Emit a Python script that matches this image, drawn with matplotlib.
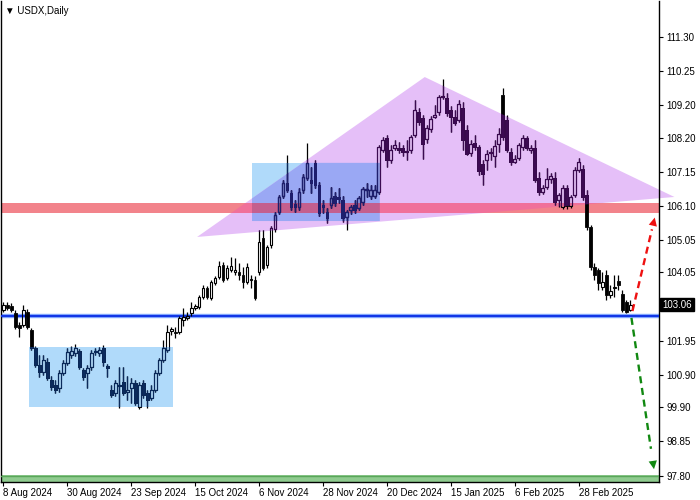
import numpy as np
import pandas as pd
import matplotlib as mpl
mpl.use('Agg')
import matplotlib.pyplot as plt
from matplotlib.patches import Polygon, Rectangle
from matplotlib.path import Path
from matplotlib.transforms import Bbox, blended_transform_factory

plt.rcParams['font.family'] = ['Liberation Sans', 'DejaVu Sans']

# daily USDX bars, 8 Aug 2024 .. 19 Mar 2025
opens = [102.89, 103.05, 103.02, 102.80, 102.44, 102.44, 102.83, 102.28, 101.72, 101.20,
         100.99, 101.30, 100.74, 100.59, 100.49, 100.96, 101.27, 101.51, 101.57, 101.63,
         101.05, 100.96, 101.14, 101.60, 101.57, 101.72, 101.17, 100.43, 100.34, 100.55,
         100.68, 100.37, 100.49, 100.65, 99.91, 100.65, 100.34, 100.19, 100.43, 100.96,
         101.36, 101.66, 102.25, 102.22, 102.22, 102.59, 102.65, 102.80, 102.95, 102.98,
         103.29, 103.57, 103.26, 103.72, 103.91, 104.28, 103.88, 104.13, 104.06, 104.06,
         103.97, 103.76, 103.82, 103.82, 104.06, 105.11, 104.28, 104.89, 105.39, 105.91,
         106.40, 106.80, 106.49, 106.16, 106.06, 106.59, 106.96, 106.89, 107.42, 106.74,
         106.12, 105.91, 106.12, 106.40, 106.37, 106.28, 105.76, 105.97, 106.12, 106.03,
         106.22, 106.59, 106.40, 106.40, 106.52, 107.82, 108.19, 107.51, 107.88, 107.88,
         107.88, 107.76, 107.82, 108.28, 108.99, 108.80, 108.16, 108.46, 108.83, 108.99,
         109.45, 109.42, 109.05, 108.83, 108.74, 109.11, 108.43, 107.72, 108.03, 107.91,
         107.39, 107.51, 107.72, 107.63, 108.00, 109.51, 108.74, 107.76, 107.45, 107.57,
         107.91, 108.19, 107.82, 107.88, 106.96, 106.52, 106.68, 106.92, 106.96, 106.28,
         106.06, 106.65, 106.09, 106.43, 107.20, 107.23, 106.43, 105.45, 104.22, 104.13,
         103.60, 103.97, 103.35, 103.57, 103.79, 103.38, 103.14, 102.89]
highs = [103.14, 103.14, 103.11, 102.89, 102.53, 103.05, 102.92, 102.34, 101.78, 101.51,
         101.51, 101.42, 100.86, 100.74, 101.05, 101.36, 101.72, 101.78, 101.85, 101.69,
         101.11, 101.20, 101.66, 101.72, 101.75, 101.82, 101.23, 100.59, 100.74, 101.14,
         101.14, 100.86, 100.80, 100.74, 100.68, 100.74, 100.43, 100.59, 101.05, 101.42,
         101.97, 102.44, 102.37, 102.37, 102.71, 102.95, 102.83, 103.14, 103.08, 103.35,
         103.66, 103.63, 103.82, 103.94, 104.40, 104.37, 104.28, 104.53, 104.49, 104.34,
         104.22, 104.34, 103.97, 103.94, 105.36, 105.36, 104.89, 105.48, 105.91, 106.43,
         106.89, 107.66, 106.59, 106.28, 106.65, 107.08, 108.03, 107.29, 107.51, 106.83,
         106.28, 106.03, 106.68, 106.52, 106.65, 106.40, 105.97, 106.12, 106.28, 106.40,
         106.68, 106.80, 106.74, 106.74, 107.97, 108.22, 108.28, 107.97, 108.13, 108.06,
         107.97, 108.13, 108.28, 109.36, 109.11, 108.89, 108.59, 108.86, 109.20, 109.51,
         110.00, 109.57, 109.17, 109.05, 109.36, 109.29, 108.59, 108.13, 108.28, 107.97,
         107.51, 107.82, 107.88, 108.13, 108.49, 109.72, 108.89, 107.88, 107.66, 108.03,
         108.28, 108.25, 107.97, 108.13, 107.14, 106.74, 107.26, 107.11, 107.14, 106.49,
         106.74, 106.74, 106.43, 107.29, 107.57, 107.36, 106.59, 105.51, 104.34, 104.19,
         104.06, 104.13, 103.66, 103.97, 103.97, 103.51, 103.20, 103.20]
lows = [102.83, 102.89, 102.83, 102.31, 102.06, 102.37, 102.31, 101.66, 101.14, 100.83,
        100.90, 100.74, 100.43, 100.34, 100.37, 100.90, 101.20, 101.42, 101.48, 101.08,
        100.74, 100.49, 101.05, 101.51, 101.48, 101.17, 100.83, 100.22, 100.25, 99.88,
        100.28, 100.13, 100.03, 99.97, 99.85, 100.19, 99.88, 100.13, 100.37, 100.90,
        101.30, 101.60, 102.12, 102.03, 102.16, 102.41, 102.59, 102.71, 102.89, 102.92,
        103.23, 103.23, 103.20, 103.66, 103.85, 103.76, 103.82, 104.06, 103.97, 103.82,
        103.57, 103.69, 103.57, 103.20, 103.97, 104.13, 104.19, 104.80, 105.29, 105.85,
        106.34, 106.53, 105.97, 105.91, 105.97, 106.49, 106.89, 106.49, 106.65, 105.79,
        105.88, 105.57, 106.03, 106.09, 106.19, 105.60, 105.36, 105.85, 105.88, 105.97,
        106.12, 106.37, 106.31, 106.34, 106.46, 107.76, 107.29, 107.42, 107.82, 107.72,
        107.63, 107.51, 107.72, 108.22, 108.59, 107.54, 108.03, 108.37, 108.80, 108.89,
        109.39, 108.86, 108.37, 108.59, 108.68, 107.82, 107.66, 107.63, 107.82, 107.05,
        106.74, 107.20, 107.51, 107.29, 107.76, 108.13, 107.76, 107.36, 107.42, 107.51,
        107.82, 107.82, 107.72, 106.83, 106.43, 106.46, 106.62, 106.80, 106.12, 106.06,
        106.00, 106.00, 106.03, 106.37, 107.14, 106.28, 105.36, 104.13, 103.82, 103.51,
        103.51, 103.20, 103.26, 103.29, 103.51, 102.83, 102.80, 102.86]
closes = [103.05, 102.95, 102.89, 102.37, 102.34, 102.89, 102.37, 101.72, 101.20, 100.99,
          101.36, 100.80, 100.52, 100.43, 100.96, 101.27, 101.60, 101.63, 101.72, 101.14,
          100.83, 101.11, 101.57, 101.63, 101.66, 101.30, 101.11, 100.28, 100.65, 100.59,
          100.34, 100.43, 100.65, 100.03, 100.59, 100.28, 100.13, 100.43, 100.96, 101.36,
          101.72, 102.22, 102.31, 102.19, 102.65, 102.68, 102.71, 102.95, 103.02, 103.29,
          103.57, 103.29, 103.76, 103.88, 104.25, 103.82, 104.19, 104.25, 104.13, 103.97,
          103.76, 104.22, 103.85, 103.26, 104.99, 104.19, 104.83, 105.42, 105.82, 106.37,
          106.80, 106.59, 106.06, 106.06, 106.52, 106.99, 107.42, 106.80, 106.74, 105.88,
          106.06, 105.72, 106.34, 106.19, 106.31, 105.72, 105.91, 106.06, 105.97, 106.34,
          106.62, 106.62, 106.59, 106.59, 107.91, 108.13, 107.51, 107.82, 107.97, 107.82,
          107.76, 107.79, 108.22, 109.05, 108.68, 108.00, 108.49, 108.77, 108.89, 109.45,
          109.48, 108.96, 108.83, 108.65, 109.23, 108.13, 107.69, 108.00, 107.91, 107.17,
          107.08, 107.69, 107.76, 107.94, 108.31, 108.22, 107.82, 107.45, 107.54, 107.97,
          108.19, 107.88, 107.88, 106.89, 106.52, 106.65, 106.92, 107.02, 106.22, 106.43,
          106.65, 106.09, 106.37, 107.20, 107.45, 106.37, 105.45, 104.22, 103.97, 103.72,
          103.76, 103.35, 103.48, 103.60, 103.66, 102.89, 102.83, 103.06]

date_labels = ['8 Aug 2024', '30 Aug 2024', '23 Sep 2024', '15 Oct 2024', '6 Nov 2024',
               '28 Nov 2024', '20 Dec 2024', '15 Jan 2025', '6 Feb 2025', '28 Feb 2025']
price_ticks = [111.30, 110.25, 109.20, 108.20, 107.15, 106.10, 105.05, 104.05,
               101.95, 100.90, 99.90, 98.85, 97.80]
last_price = 103.06

# drawn objects (bar index, price)
support_level = 102.71
resist_zone = (105.87, 106.19)
bottom_zone = (97.60, 97.83)
box1 = (6.5, 42.5, 99.91, 101.76)
box2 = (62.25, 94.25, 105.63, 107.42)
triangle = [(48.5, 105.14), (105.5, 110.06), (168.0, 106.37)]
up_arrow = [(157.5, 102.86), (163.25, 105.82)]
down_arrow = [(157.25, 102.65), (163.0, 97.91)]

days = pd.bdate_range('2024-08-08', '2025-03-25')
days = days[~days.isin(pd.to_datetime(['2024-12-25', '2025-01-01']))][:len(closes)]
tick_pos = [days.get_loc(pd.Timestamp(d)) for d in pd.to_datetime(date_labels, format='%d %b %Y')]

LB = '#b0dafa'
LAV = '#e5bff8'
MIX = '#9aa8f4'
RED = '#f2838b'
RED_T = '#f0709a'
RED_BT = '#c45f8e'

fig = plt.figure(figsize=(7, 5), dpi=100)
ax = fig.add_axes([0.002, 0.036, 0.940, 0.962])
ax.set_xlim(-0.5, 164.25)
ax.set_ylim(97.60, 112.40)

def rect(b, **kw):
    return Rectangle((b[0], b[2]), b[1] - b[0], b[3] - b[2], **kw)

tri = Polygon(triangle, closed=True, facecolor=LAV, edgecolor='none', zorder=1, clip_on=False)
tri_clip = Polygon(triangle, closed=True, transform=ax.transData)
b1 = rect(box1, facecolor=LB, edgecolor='none', zorder=1)
b2 = rect(box2, facecolor=LB, edgecolor='none', zorder=1)
ax.add_patch(b1)
ax.add_patch(b2)
ax.add_patch(tri)

# box2 inside triangle
inter = Path(triangle + [triangle[0]], closed=True).clip_to_bbox(
    Bbox([[box2[0], box2[2]], [box2[1], box2[3]]]))
inter_patch = Polygon(inter.vertices, closed=True, facecolor=MIX, edgecolor='none', zorder=1.5)
ax.add_patch(inter_patch)
inter_clip = Polygon(inter.vertices, closed=True, transform=ax.transData)

r0 = ax.axhspan(*resist_zone, color=RED, lw=0, zorder=2)
r1 = ax.axhspan(*resist_zone, color=RED_T, lw=0, zorder=2.1)
r1.set_clip_path(tri_clip)
r2 = ax.axhspan(*resist_zone, color=RED_BT, lw=0, zorder=2.2)
r2.set_clip_path(inter_clip)

ax.axhline(support_level, color='#8fb4ff', lw=3.2, zorder=2.5)
ax.axhline(support_level, color='#1236e6', lw=1.6, zorder=2.6)
ax.axhspan(*bottom_zone, color='#8fcb8f', lw=0, zorder=2.5)
ax.axhline(97.80, color='#5aa65a', lw=1, zorder=2.6)

x = np.arange(len(closes))
o = np.array(opens); h = np.array(highs); l = np.array(lows); c = np.array(closes)
top = np.maximum(o, c); bot = np.minimum(o, c)
bull = c >= o

def candles(color, z, clip=None):
    arts = []
    arts.append(ax.vlines(x, top, h, color=color, lw=0.9, zorder=z))
    arts.append(ax.vlines(x, l, bot, color=color, lw=0.9, zorder=z))
    hgt = np.maximum(top - bot, 0.02)
    bars = ax.bar(x[~bull], hgt[~bull], bottom=bot[~bull], width=0.7,
                  color=color, edgecolor=color, lw=0.6, zorder=z)
    arts.extend(bars.patches)
    bars = ax.bar(x[bull], hgt[bull], bottom=bot[bull], width=0.7,
                  facecolor='none', edgecolor=color, lw=0.8, zorder=z)
    arts.extend(bars.patches)
    if clip is not None:
        for a in arts:
            a.set_clip_path(clip)

candles('black', 3)
candles('#0b2a5c', 3.1, rect(box1, transform=ax.transData))
candles('#0b2a5c', 3.1, rect(box2, transform=ax.transData))
candles('#3c0a52', 3.2, tri_clip)
candles('#1d1f6e', 3.3, inter_clip)

for arr, col in [(up_arrow, '#ee1111'), (down_arrow, '#118811')]:
    (x0, y0), (x1, y1) = arr
    ax.plot([x0, x0 + 0.85 * (x1 - x0)], [y0, y0 + 0.85 * (y1 - y0)],
            color=col, lw=1.7, ls=(0, (3, 2)), zorder=4)
    ax.annotate('', xy=(x1, y1), xytext=(x0 + 0.8 * (x1 - x0), y0 + 0.8 * (y1 - y0)),
                arrowprops=dict(arrowstyle='-|>', color=col, lw=0, mutation_scale=15), zorder=4)

for s in ['left', 'right', 'bottom']:
    ax.spines[s].set_linewidth(1.0)
ax.spines['top'].set_visible(False)

ax.yaxis.tick_right()
ax.set_yticks(price_ticks)
ax.set_yticklabels(['%.2f' % p for p in price_ticks])
ax.tick_params(axis='y', length=3, width=0.8, pad=2, labelsize=7, direction='out')
ax.set_xticks(tick_pos)
ax.set_xticklabels(date_labels)
ax.tick_params(axis='x', length=3, width=0.8, pad=1, labelsize=7, direction='out')
for t in ax.get_xticklabels():
    t.set_horizontalalignment('left')

tr = blended_transform_factory(ax.transAxes, ax.transData)
ax.text(1.004, last_price, '%.2f' % last_price, transform=tr, color='white', fontsize=7,
        va='center', ha='left', zorder=6,
        bbox=dict(boxstyle='square,pad=0.2', facecolor='black', edgecolor='black'))

ax.text(0.006, 0.98, '\u25bc USDX,Daily', transform=ax.transAxes, fontsize=7,
        family=['Liberation Sans', 'DejaVu Sans'], va='center', ha='left', zorder=6)

fig.savefig('out.png', dpi=100)
